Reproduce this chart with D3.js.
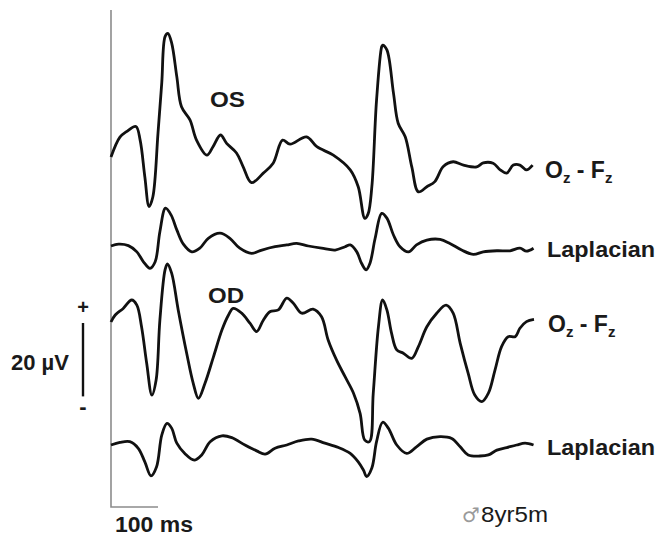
<!DOCTYPE html>
<html>
<head>
<meta charset="utf-8">
<script src="https://cdn.jsdelivr.net/npm/d3@7"></script>
<style>
  body { margin: 0; background: #fff; }
  svg { display: block; }
  text { font-family: "Liberation Sans", Arial, Helvetica, sans-serif; }
</style>
</head>
<body>
<svg id="chart" width="658" height="538"></svg>
<script>
// time in ms, amplitude in uV (relative to each trace's own start)
const osOzFzTime = [0,19,33,53,62,72,81,89,100,108,115,121,129,140,150,168,182,204,217,233,246,267,281,299,324,345,365,381,416,438,473,509,526,540,547,555,565,576,578,587,601,611,626,640,654,672,689,707,728,750,778,792,813,828,842,856,870,884,897]
const osOzFzVal  = [0,5.4,6.9,8.3,4.6,-5.4,-13.5,-10.9,6.5,20.2,32.8,33.7,31.1,21.9,13.7,10.1,4.6,0.5,2.8,6.0,3.7,1.1,-2.6,-7.0,-4.4,-1.7,4.6,3.5,5.5,2.8,0.5,-3.5,-8.1,-16.7,-15.5,-8.1,15.5,30.1,30.5,29.2,17.4,9.2,5.5,-2.7,-9.5,-8.1,-6.7,-2.6,-1.3,-2.2,-2.7,-1.6,-1.7,-3.5,-4.4,-2.2,-2.2,-3.5,-2.2]

const osLapTime = [0,16,37,55,69,83,94,104,116,128,140,154,172,189,207,232,253,274,299,321,349,374,395,420,448,477,498,509,523,533,543,551,562,576,587,601,615,633,650,672,700,721,746,771,792,821,849,870,884,899]
const osLapVal  = [0,0.5,0.1,-1.6,-4.3,-6.1,-4.3,3.9,10.3,8.4,4.4,0.5,-1.6,-0.6,2.1,3.5,2.1,-0.6,-2.0,-1.1,-0.2,0.3,0.7,0,-0.6,-1.1,-0.2,0.3,-1.6,-4.7,-6.5,-4.7,2.1,8.9,7.6,3.0,-0.2,-1.6,0.3,1.6,1.8,0.7,-1.1,-2.3,-1.6,-1.3,-1.3,-0.6,-1.4,-0.6]

const odOzFzTime = [0,9,26,44,55,65,76,87,96,104,115,120,129,143,161,175,186,200,218,236,250,260,278,296,310,324,338,356,374,388,406,430,448,462,480,498,516,530,540,550,558,569,578,587,597,608,622,640,654,672,693,713,728,743,760,774,789,803,817,831,845,860,870,884,900]
const odOzFzVal  = [0,1.9,3.7,6.0,4.6,-1.3,-11.3,-19.9,-15.8,0.5,14.2,15.8,13.3,3.3,-8.5,-16.7,-20.8,-16.7,-9.5,-2.2,1.9,3.7,2.4,-0.4,-2.6,0.5,2.8,3.3,6.5,5.1,2.4,3.5,1.4,-4.9,-10.4,-14.9,-19.4,-24.9,-32.2,-32.6,-19.4,-1.3,6.0,3.3,-3.1,-7.6,-8.5,-9.9,-6.7,-1.3,2.4,4.6,2.4,-5.8,-14.0,-19.9,-21.7,-19.4,-13.1,-6.7,-4.0,-4.0,-1.7,0.1,0.7]

const odLapTime = [0,19,40,58,72,85,97,108,119,129,140,157,177,193,211,236,257,285,310,328,349,374,399,427,455,484,509,526,537,544,555,565,578,590,608,629,650,672,700,725,743,760,785,803,821,842,863,881,899]
const odLapVal  = [0,0.7,0.9,-0.9,-4.6,-8.4,-5.9,2.7,5.9,4.6,0.5,-2.3,-4.1,-2.7,0.9,2.5,2.0,0,-1.6,-2.5,-0.9,0,1.1,1.6,0.5,-0.7,-2.3,-4.6,-6.8,-8.6,-6.3,0.9,6.2,4.6,0,-2.3,-0.5,1.6,2.3,1.8,-0.5,-2.7,-3.0,-2.7,-1.4,-0.7,0,0.5,0]

const traceNames = ['OS Oz-Fz', 'OS Laplacian', 'OD Oz-Fz', 'OD Laplacian']
const eyeLabels = ['OS', 'OD']
const scaleBarMs = 100
const scaleBarUv = 20

const svg = d3.select('#chart')

const x = d3.scaleLinear().domain([0, 900]).range([111, 534])
// relative amplitude scale, 20 uV ~ 73 px
const y = d3.scaleLinear().domain([0, scaleBarUv]).range([0, -73.4])

const baselines = [157, 246, 322, 445]
const traces = [
    [osOzFzTime, osOzFzVal],
    [osLapTime, osLapVal],
    [odOzFzTime, odOzFzVal],
    [odLapTime, odLapVal]
].map(([t, v], i) => ({ name: traceNames[i], pts: t.map((d, j) => [d, v[j]]) }))

const line = d3.line()
    .x(d => x(d[0]))
    .y(d => y(d[1]))
    .curve(d3.curveCatmullRom.alpha(0.5))

// time axis / scale bar (gray)
svg.append('path')
    .attr('d', `M${x(0)},10 V${507} H${x(scaleBarMs)}`)
    .attr('fill', 'none')
    .attr('stroke', '#8c8c8c')
    .attr('stroke-width', 1.6)

svg.selectAll('g.trace')
    .data(traces)
    .enter()
    .append('g')
    .attr('class', 'trace')
    .attr('transform', (d, i) => `translate(0,${baselines[i]})`)
    .append('path')
    .attr('d', d => line(d.pts))
    .attr('fill', 'none')
    .attr('stroke', '#111')
    .attr('stroke-width', 2.8)
    .attr('stroke-linejoin', 'round')

// amplitude scale bar
const barTop = 323
svg.append('line')
    .attr('x1', 83).attr('x2', 83)
    .attr('y1', barTop).attr('y2', barTop - y(scaleBarUv))
    .attr('stroke', '#111').attr('stroke-width', 2.4)

const bold = sel => sel.attr('font-weight', 'bold').attr('fill', '#1a1a1a')

bold(svg.append('text').attr('x', 83).attr('y', 314).attr('text-anchor', 'middle')
    .attr('font-size', 20).text('+'))
bold(svg.append('text').attr('x', 83).attr('y', 414).attr('text-anchor', 'middle')
    .attr('font-size', 22).text('-'))
bold(svg.append('text').attr('x', 11).attr('y', 370).attr('font-size', 22)
    .attr('textLength', 58).attr('lengthAdjust', 'spacingAndGlyphs').text(scaleBarUv + ' µV'))
bold(svg.append('text').attr('x', 115).attr('y', 532).attr('font-size', 22)
    .attr('textLength', 78).attr('lengthAdjust', 'spacingAndGlyphs').text(scaleBarMs + ' ms'))

// eye labels
bold(svg.append('text').attr('x', 210).attr('y', 107).attr('font-size', 22)
    .attr('textLength', 35).attr('lengthAdjust', 'spacingAndGlyphs').text(eyeLabels[0]))
bold(svg.append('text').attr('x', 208).attr('y', 303).attr('font-size', 22)
    .attr('textLength', 36).attr('lengthAdjust', 'spacingAndGlyphs').text(eyeLabels[1]))

// trace labels
const ozfz = (xx, yy) => {
    let t = bold(svg.append('text').attr('x', xx).attr('y', yy).attr('font-size', 23))
    t.append('tspan').text('O')
    t.append('tspan').attr('font-size', 15).attr('dy', 5).text('z')
    t.append('tspan').attr('dy', -5).text(' - F')
    t.append('tspan').attr('font-size', 15).attr('dy', 5).text('z')
}
ozfz(545, 178)
ozfz(548, 332)

bold(svg.append('text').attr('x', 547).attr('y', 257).attr('font-size', 22)
    .attr('textLength', 108).attr('lengthAdjust', 'spacingAndGlyphs').text('Laplacian'))
bold(svg.append('text').attr('x', 547).attr('y', 455).attr('font-size', 22)
    .attr('textLength', 108).attr('lengthAdjust', 'spacingAndGlyphs').text('Laplacian'))

// subject
svg.append('text').attr('x', 462).attr('y', 522).attr('font-size', 20)
    .attr('fill', '#9a9a9a').style('font-family', '"DejaVu Sans", sans-serif').text('\u2642')
svg.append('text').attr('x', 481).attr('y', 522).attr('font-size', 22).attr('fill', '#1a1a1a')
    .attr('textLength', 67).attr('lengthAdjust', 'spacingAndGlyphs').text('8yr5m')
</script>
</body>
</html>
